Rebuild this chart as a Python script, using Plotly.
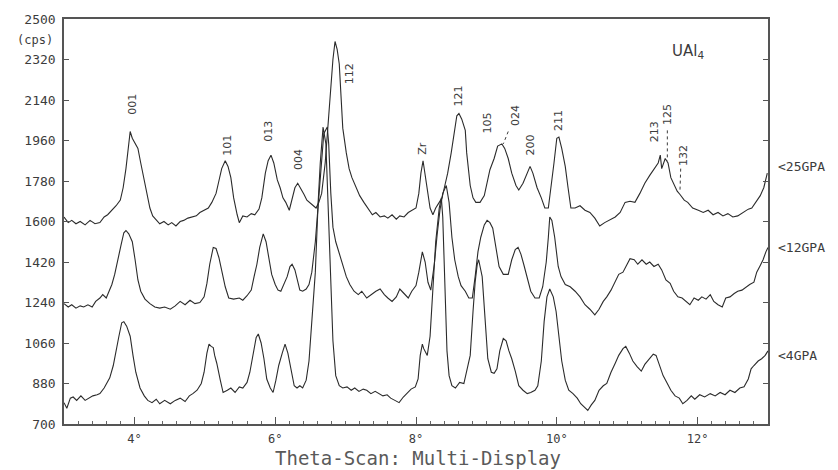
import plotly.graph_objects as go

# ---- diffraction scans of UAl4 (2-theta in degrees, intensity in cps) ----
theta_25 = [3.00, 3.06, 3.11, 3.17, 3.23, 3.30, 3.37, 3.44, 3.51, 3.57, 3.62, 3.68, 3.74, 3.80, 3.84, 3.88,
            3.91, 3.94, 3.97, 4.01, 4.05, 4.09, 4.14, 4.18, 4.22, 4.26, 4.32, 4.36, 4.42, 4.48, 4.53, 4.59,
            4.65, 4.70, 4.76, 4.82, 4.88, 4.93, 4.99, 5.05, 5.10, 5.16, 5.20, 5.24, 5.29, 5.33, 5.37, 5.41,
            5.46, 5.49, 5.54, 5.60, 5.66, 5.71, 5.77, 5.81, 5.86, 5.90, 5.94, 5.98, 6.03, 6.07, 6.11, 6.15,
            6.20, 6.24, 6.28, 6.32, 6.37, 6.41, 6.45, 6.49, 6.54, 6.58, 6.62, 6.66, 6.71, 6.75, 6.79, 6.82,
            6.85, 6.88, 6.91, 6.93, 6.96, 7.01, 7.05, 7.09, 7.15, 7.20, 7.26, 7.32, 7.38, 7.43, 7.49, 7.55,
            7.60, 7.66, 7.72, 7.77, 7.83, 7.89, 7.94, 8.00, 8.04, 8.07, 8.10, 8.13, 8.16, 8.20, 8.24, 8.28,
            8.33, 8.37, 8.41, 8.45, 8.50, 8.54, 8.58, 8.61, 8.65, 8.70, 8.72, 8.77, 8.81, 8.85, 8.91, 8.97,
            9.01, 9.05, 9.11, 9.16, 9.22, 9.26, 9.31, 9.36, 9.42, 9.46, 9.52, 9.58, 9.62, 9.66, 9.72, 9.78,
            9.83, 9.88, 9.92, 9.96, 10.00, 10.03, 10.07, 10.12, 10.16, 10.20, 10.26, 10.33, 10.40, 10.47, 10.54, 10.61,
            10.68, 10.76, 10.83, 10.90, 10.97, 11.04, 11.11, 11.18, 11.25, 11.32, 11.39, 11.44, 11.47, 11.49, 11.54, 11.58,
            11.62, 11.66, 11.71, 11.75, 11.81, 11.86, 11.93, 12.01, 12.08, 12.15, 12.22, 12.29, 12.36, 12.43, 12.50, 12.57,
            12.64, 12.72, 12.77, 12.83, 12.89, 12.94, 12.99]
cps_25 = [1620, 1595, 1605, 1590, 1600, 1585, 1605, 1590, 1595, 1620, 1630, 1650, 1670, 1695, 1750, 1835,
          1925, 2000, 1970, 1945, 1925, 1860, 1785, 1725, 1660, 1625, 1605, 1590, 1600, 1585, 1595, 1580,
          1600, 1605, 1615, 1620, 1625, 1640, 1650, 1660, 1685, 1725, 1780, 1835, 1870, 1845, 1795, 1705,
          1630, 1595, 1625, 1620, 1635, 1630, 1655, 1705, 1815, 1870, 1895, 1860, 1785, 1750, 1705, 1685,
          1650, 1705, 1750, 1770, 1745, 1720, 1695, 1685, 1670, 1660, 1685, 1725, 1860, 2035, 2210, 2320,
          2400, 2365, 2300, 2165, 2015, 1905, 1835, 1795, 1750, 1715, 1685, 1655, 1630, 1640, 1620, 1625,
          1615, 1630, 1610, 1625, 1620, 1640, 1650, 1660, 1725, 1815, 1870, 1805, 1740, 1660, 1630, 1660,
          1685, 1705, 1760, 1815, 1905, 2000, 2070, 2080, 2055, 2005, 1905, 1760, 1705, 1685, 1685, 1715,
          1770, 1830, 1880, 1935, 1945, 1925, 1880, 1815, 1760, 1740, 1770, 1815, 1845, 1815, 1750, 1705,
          1660, 1660, 1750, 1860, 1970, 1975, 1925, 1845, 1750, 1660, 1660, 1670, 1650, 1640, 1615, 1580,
          1595, 1610, 1620, 1640, 1685, 1690, 1685, 1725, 1770, 1805, 1835, 1860, 1895, 1835, 1880, 1860,
          1795, 1770, 1735, 1720, 1695, 1685, 1660, 1650, 1640, 1650, 1630, 1640, 1625, 1635, 1620, 1625,
          1640, 1655, 1660, 1685, 1715, 1750, 1815]

theta_12 = [3.00, 3.06, 3.11, 3.17, 3.23, 3.28, 3.34, 3.40, 3.45, 3.51, 3.55, 3.60, 3.64, 3.68, 3.72, 3.77,
            3.81, 3.85, 3.88, 3.92, 3.97, 4.01, 4.05, 4.09, 4.15, 4.22, 4.29, 4.36, 4.43, 4.51, 4.58, 4.65,
            4.72, 4.79, 4.86, 4.93, 4.99, 5.03, 5.07, 5.12, 5.16, 5.20, 5.24, 5.29, 5.34, 5.41, 5.49, 5.54,
            5.60, 5.66, 5.70, 5.74, 5.78, 5.83, 5.87, 5.91, 5.95, 6.00, 6.04, 6.08, 6.13, 6.17, 6.21, 6.24,
            6.28, 6.32, 6.35, 6.39, 6.44, 6.48, 6.52, 6.57, 6.61, 6.65, 6.69, 6.74, 6.76, 6.79, 6.82, 6.86,
            6.91, 6.95, 7.01, 7.06, 7.12, 7.18, 7.23, 7.30, 7.38, 7.43, 7.49, 7.55, 7.60, 7.66, 7.72, 7.77,
            7.83, 7.89, 7.94, 8.00, 8.04, 8.09, 8.13, 8.17, 8.21, 8.26, 8.30, 8.34, 8.38, 8.43, 8.47, 8.51,
            8.55, 8.60, 8.64, 8.70, 8.75, 8.80, 8.84, 8.88, 8.92, 8.97, 9.01, 9.05, 9.09, 9.14, 9.18, 9.24,
            9.31, 9.36, 9.41, 9.45, 9.49, 9.53, 9.58, 9.63, 9.69, 9.75, 9.80, 9.85, 9.88, 9.90, 9.93, 9.97,
            10.02, 10.06, 10.12, 10.19, 10.26, 10.33, 10.40, 10.47, 10.54, 10.60, 10.66, 10.71, 10.77, 10.83, 10.88, 10.94,
            11.00, 11.04, 11.10, 11.15, 11.21, 11.27, 11.32, 11.38, 11.44, 11.49, 11.55, 11.61, 11.66, 11.72, 11.78, 11.84,
            11.89, 11.95, 12.01, 12.06, 12.12, 12.18, 12.23, 12.29, 12.35, 12.40, 12.46, 12.52, 12.57, 12.63, 12.69, 12.74,
            12.80, 12.84, 12.89, 12.93, 12.97, 13.00]
cps_12 = [1235, 1220, 1230, 1215, 1225, 1220, 1230, 1220, 1245, 1260, 1275, 1260, 1290, 1320, 1365, 1430,
          1495, 1550, 1560, 1545, 1510, 1430, 1340, 1290, 1255, 1235, 1220, 1215, 1220, 1210, 1225, 1245,
          1230, 1250, 1235, 1240, 1265, 1325, 1410, 1485, 1480, 1440, 1385, 1310, 1260, 1255, 1260, 1250,
          1270, 1295, 1355, 1410, 1485, 1545, 1510, 1440, 1365, 1320, 1295, 1290, 1325, 1355, 1400, 1410,
          1385, 1340, 1295, 1290, 1300, 1320, 1375, 1510, 1685, 1860, 1990, 2020, 1945, 1725, 1575, 1510,
          1455, 1420, 1355, 1320, 1290, 1275, 1290, 1260, 1280, 1290, 1300, 1275, 1260, 1245, 1265, 1300,
          1280, 1260, 1290, 1315, 1375, 1465, 1420, 1330, 1295, 1410, 1540, 1650, 1725, 1760, 1685, 1530,
          1430, 1355, 1315, 1290, 1260, 1260, 1355, 1465, 1530, 1585, 1605, 1595, 1570, 1485, 1400, 1365,
          1365, 1430, 1475, 1485, 1455, 1410, 1355, 1290, 1260, 1260, 1310, 1420, 1530, 1620, 1605, 1530,
          1400, 1355, 1320, 1310, 1290, 1265, 1230, 1210, 1185, 1210, 1245, 1265, 1295, 1330, 1365, 1375,
          1410, 1435, 1430, 1410, 1430, 1410, 1420, 1400, 1410, 1385, 1340, 1325, 1290, 1265, 1260, 1245,
          1230, 1260, 1250, 1265, 1255, 1275, 1245, 1230, 1220, 1260, 1265, 1280, 1290, 1295, 1310, 1320,
          1330, 1375, 1405, 1430, 1465, 1485]

theta_4 = [3.00, 3.04, 3.09, 3.13, 3.18, 3.24, 3.30, 3.36, 3.41, 3.47, 3.51, 3.57, 3.61, 3.65, 3.70, 3.74,
           3.78, 3.82, 3.85, 3.89, 3.94, 3.98, 4.02, 4.08, 4.14, 4.19, 4.25, 4.31, 4.36, 4.43, 4.51, 4.58,
           4.65, 4.72, 4.78, 4.83, 4.89, 4.95, 4.99, 5.03, 5.06, 5.09, 5.12, 5.14, 5.17, 5.22, 5.26, 5.32,
           5.37, 5.43, 5.49, 5.54, 5.60, 5.64, 5.68, 5.73, 5.76, 5.80, 5.84, 5.88, 5.93, 5.97, 6.01, 6.05,
           6.10, 6.14, 6.18, 6.22, 6.27, 6.31, 6.35, 6.39, 6.44, 6.48, 6.52, 6.57, 6.61, 6.64, 6.68, 6.72,
           6.75, 6.78, 6.82, 6.86, 6.91, 6.96, 7.02, 7.08, 7.13, 7.19, 7.25, 7.30, 7.36, 7.42, 7.47, 7.53,
           7.59, 7.64, 7.70, 7.76, 7.82, 7.87, 7.93, 7.99, 8.03, 8.06, 8.09, 8.11, 8.16, 8.20, 8.24, 8.28,
           8.33, 8.36, 8.38, 8.41, 8.44, 8.47, 8.51, 8.56, 8.62, 8.68, 8.72, 8.77, 8.81, 8.84, 8.87, 8.89,
           8.94, 8.98, 9.02, 9.07, 9.11, 9.15, 9.19, 9.24, 9.28, 9.32, 9.36, 9.41, 9.46, 9.52, 9.58, 9.63,
           9.69, 9.73, 9.78, 9.82, 9.86, 9.90, 9.95, 9.99, 10.03, 10.07, 10.12, 10.17, 10.23, 10.29, 10.34, 10.40,
           10.44, 10.49, 10.54, 10.60, 10.66, 10.71, 10.77, 10.83, 10.88, 10.94, 10.98, 11.03, 11.08, 11.14, 11.20, 11.25,
           11.31, 11.37, 11.41, 11.45, 11.51, 11.57, 11.62, 11.68, 11.74, 11.79, 11.85, 11.91, 11.96, 12.03, 12.10, 12.18,
           12.25, 12.32, 12.39, 12.46, 12.53, 12.60, 12.66, 12.72, 12.76, 12.80, 12.86, 12.91, 12.96, 13.00]
cps_4 = [795, 770, 815, 820, 805, 825, 805, 815, 825, 830, 835, 860, 880, 905, 960, 1035,
         1090, 1150, 1155, 1135, 1090, 1005, 930, 860, 825, 805, 795, 810, 790, 805, 790, 805,
         815, 800, 825, 835, 850, 880, 930, 1015, 1055, 1045, 1040, 1005, 970, 895, 840, 850,
         860, 840, 865, 860, 885, 930, 1005, 1085, 1100, 1060, 990, 900, 860, 840, 895, 960,
         1015, 1055, 1015, 945, 870, 860, 870, 860, 895, 980, 1155, 1375, 1685, 1860, 2020, 1945,
         1685, 1400, 1070, 915, 870, 860, 865, 850, 860, 845, 855, 850, 835, 845, 835, 825,
         830, 815, 805, 795, 820, 835, 855, 865, 900, 1005, 1055, 1035, 1005, 1090, 1290, 1510,
         1660, 1705, 1620, 1330, 1025, 915, 870, 860, 885, 880, 930, 1005, 1200, 1330, 1410, 1430,
         1355, 1155, 990, 930, 925, 945, 1025, 1080, 1070, 1025, 990, 935, 870, 850, 835, 840,
         850, 870, 980, 1155, 1265, 1300, 1265, 1200, 1090, 980, 895, 850, 835, 815, 790, 770,
         760, 785, 805, 850, 870, 880, 930, 970, 1005, 1035, 1045, 1015, 980, 955, 935, 965,
         990, 1010, 1005, 970, 915, 880, 850, 825, 815, 790, 805, 825, 810, 830, 820, 835,
         825, 840, 830, 850, 840, 860, 865, 900, 945, 960, 980, 990, 1005, 1025]

# reflection indices written above the 25 GPa scan
peak_names = ["001", "101", "013", "004", "112", "Zr", "121",
              "105", "024", "200", "211", "213", "125", "132"]

# axis ticks
y_ticks = [700, 880, 1060, 1240, 1420, 1600, 1780, 1960, 2140, 2320, 2500]
x_ticks = [4, 6, 8, 10, 12]
x_tick_text = ["4°", "6°", "8°", "10°", "12°"]

# pressure tags at the right end of each scan
pressure_tags = ["<25GPA", "<12GPA", "<4GPA"]

# ---- placement of the text (separate from the data) ----
peak_label_xy = [(3.97, 2120), (5.32, 1938), (5.90, 2000), (6.32, 1877), (7.06, 2258),
                 (8.09, 1925), (8.60, 2157), (9.02, 2039), (9.41, 2070), (9.62, 1938),
                 (10.02, 2048), (11.39, 2000), (11.58, 2074), (11.79, 1895)]
leaders = [((9.31, 2000), (9.24, 1945)),
           ((11.57, 2005), (11.57, 1870)),
           ((11.76, 1835), (11.75, 1740))]
tag_y = [1846, 1486, 1003]

INK = "#2b2b2b"
TXT = "#3c3c3c"
MONO = "DejaVu Sans Mono"

fig = go.Figure()
for xs, ys, name in [(theta_25, cps_25, "25 GPa"), (theta_12, cps_12, "12 GPa"), (theta_4, cps_4, "4 GPa")]:
    fig.add_trace(go.Scatter(x=xs, y=ys, mode="lines", name=name,
                             line=dict(color=INK, width=1.1), hoverinfo="x+y+name"))

annotations = []
for name, (lx, ly) in zip(peak_names, peak_label_xy):
    annotations.append(dict(x=lx, y=ly, xref="x", yref="y", text=name, showarrow=False,
                            textangle=-90, font=dict(family="DejaVu Sans", size=11, color=TXT)))
for tag, ty in zip(pressure_tags, tag_y):
    annotations.append(dict(x=1.012, y=ty, xref="paper", yref="y", text=tag, showarrow=False,
                            xanchor="left", yanchor="middle", font=dict(family=MONO, size=13, color=TXT)))
annotations.append(dict(x=11.86, y=2355, xref="x", yref="y", text="UAl<sub>4</sub>", showarrow=False,
                        font=dict(family="DejaVu Sans", size=15, color=TXT)))
annotations.append(dict(x=-0.013, y=2405, xref="paper", yref="y", text="(cps)", showarrow=False,
                        xanchor="right", yanchor="middle", font=dict(family=MONO, size=12, color=TXT)))
annotations.append(dict(x=0.503, y=-0.083, xref="paper", yref="paper", text="Theta-Scan: Multi-Display",
                        showarrow=False, xanchor="center", yanchor="middle",
                        font=dict(family=MONO, size=19, color="#5a5a5a")))

shapes = [dict(type="line", xref="x", yref="y", x0=a[0], y0=a[1], x1=b[0], y1=b[1],
               line=dict(color=TXT, width=1, dash="dot")) for a, b in leaders]

fig.update_layout(
    width=838, height=470,
    margin=dict(l=64, r=70, t=14, b=46),
    paper_bgcolor="white", plot_bgcolor="white",
    showlegend=False,
    annotations=annotations,
    shapes=shapes,
)
fig.update_xaxes(
    range=[3, 13], tickvals=x_ticks, ticktext=x_tick_text,
    showgrid=False, zeroline=False,
    showline=True, linecolor="#555555", linewidth=1.5, mirror=True,
    ticks="inside", ticklen=7, tickcolor="#555555", tickwidth=1,
    minor=dict(dtick=0.2, ticks="inside", ticklen=3, tickcolor="#666666", tickwidth=1),
    tickfont=dict(family=MONO, size=12, color=TXT), ticklabelstandoff=3,
)
fig.update_yaxes(
    range=[700, 2500], tickvals=y_ticks,
    showgrid=False, zeroline=False,
    showline=True, linecolor="#555555", linewidth=1.5, mirror="ticks",
    ticks="inside", ticklen=5, tickcolor="#555555", tickwidth=1,
    tickfont=dict(family=MONO, size=13, color=TXT), ticklabelstandoff=4,
)

fig.write_html("out.html")
